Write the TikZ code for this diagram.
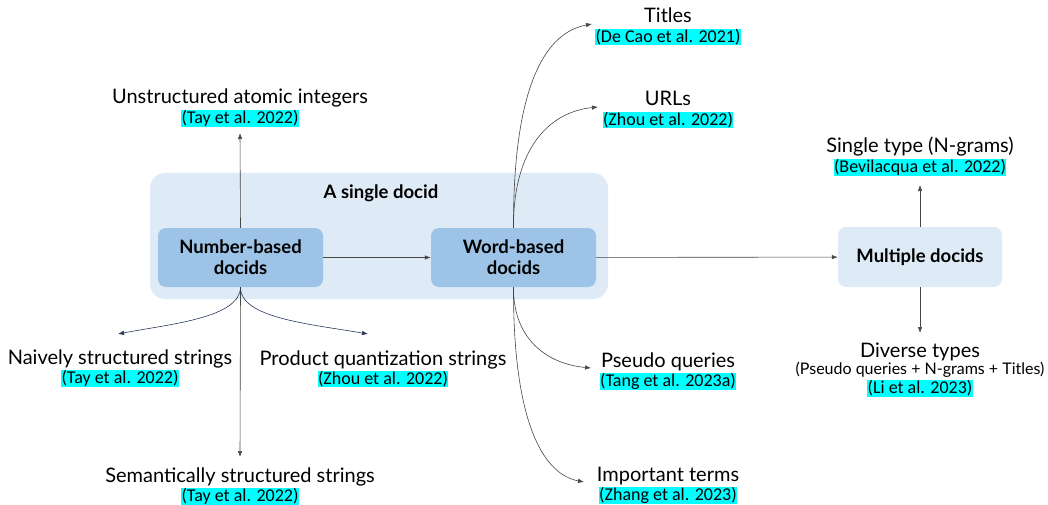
\documentclass[tikz,border=0pt]{standalone}
\usepackage{fontspec}
\setmainfont{Lato}
\newfontfamily\citefont{Carlito}
\usetikzlibrary{arrows.meta,positioning}
\definecolor{docpale}{RGB}{222,234,246}
\definecolor{docblue}{RGB}{157,195,230}
\definecolor{doccyan}{RGB}{0,255,255}
\definecolor{docnavy}{RGB}{40,55,90}
\definecolor{docgray}{RGB}{70,70,70}

\begin{document}
\begin{tikzpicture}[x=1pt, y=-1pt,
  docbox/.style={rounded corners=8pt, fill=docblue, minimum width=165pt, minimum height=59pt,
    align=center, font=\fontsize{18.5}{21}\selectfont\bfseries},
  lbl/.style={inner sep=0pt, text height=14pt, text depth=4pt, font=\fontsize{20}{22}\selectfont},
  cite/.style={fill=doccyan, inner sep=0.4pt, font=\citefont\fontsize{18}{19}\selectfont},
  arr/.style={-{Latex[length=6pt,width=4.5pt]}, docgray, line width=0.6pt}
]
  \useasboundingbox (0,0) rectangle (1048,505);

  % a single docid
  \node[fill=docpale, rounded corners=15pt, minimum width=458pt, minimum height=126pt] (single) at (379,236) {};
  \node[font=\fontsize{18.5}{23}\selectfont\bfseries] (singletitle) at (381,193) {A single docid};
  \node[docbox] (number) at (240.5,257.5) {Number-based\\docids};
  \node[docbox] (word) at (513.5,257.5) {Word-based\\docids};
  \node[docbox, fill=docpale, minimum width=164pt, minimum height=60pt] (multiple) at (920,257) {Multiple docids};

  % labels
  \node[lbl] (atomic) at (240,99) {Unstructured atomic integers};
  \node[cite, below=1.5pt of atomic] (atomiccite) {(Tay et al. 2022)};
  \node[lbl] (naive) at (120,359) {Naively structured strings};
  \node[cite, below=1.5pt of naive] (naivecite) {(Tay et al. 2022)};
  \node[lbl] (pq) at (383,360) {Product quantization strings};
  \node[cite, below=1.5pt of pq] (pqcite) {(Zhou et al. 2022)};
  \node[lbl] (semantic) at (240,477) {Semantically structured strings};
  \node[cite, below=1.5pt of semantic] (semanticcite) {(Tay et al. 2022)};

  \node[lbl] (titles) at (668,18) {Titles};
  \node[cite, below=1.5pt of titles] (titlescite) {(De Cao et al. 2021)};
  \node[lbl] (urls) at (668,101) {URLs};
  \node[cite, below=1.5pt of urls] (urlscite) {(Zhou et al. 2022)};
  \node[lbl] (pseudo) at (668,362) {Pseudo queries};
  \node[cite, below=1.5pt of pseudo] (pseudocite) {(Tang et al. 2023a)};
  \node[lbl] (terms) at (668,476) {Important terms};
  \node[cite, below=1.5pt of terms] (termscite) {(Zhang et al. 2023)};

  \node[lbl] (singletype) at (920,148) {Single type (N-grams)};
  \node[cite, below=1.5pt of singletype] (singletypecite) {(Bevilacqua et al. 2022)};
  \node[lbl] (diverse) at (920,352) {Diverse types};
  \node[lbl, font=\fontsize{16}{18}\selectfont, text height=12pt, below=1.5pt of diverse] (diversemix) {(Pseudo queries + N-grams + Titles)};
  \node[cite, below=1pt of diversemix] (diversecite) {(Li et al. 2023)};

  % free ends
  \coordinate (atomicend) at (240,133);
  \coordinate (naiveend) at (118,334);
  \coordinate (pqend) at (368,334);
  \coordinate (semanticend) at (240,457);
  \coordinate (titlesend) at (592,24);
  \coordinate (urlsend) at (598,107);
  \coordinate (pseudoend) at (591,368);
  \coordinate (termsend) at (584,482);
  \coordinate (singletypeend) at (920,185);
  \coordinate (diverseend) at (920,333);

  % connectors
  \draw[arr] (number) -- (word);
  \draw[arr] (word) -- (multiple);
  \draw[arr] (number.north) -- (atomicend);
  \draw[arr] (number.south) -- (semanticend);
  \draw[arr, docnavy] (number.south) .. controls (240,318) and (170,324) .. (naiveend);
  \draw[arr, docnavy] (number.south) .. controls (240,318) and (310,324) .. (pqend);
  \draw[arr] (word.north) .. controls (513,80) and (548,32) .. (titlesend);
  \draw[arr] (word.north) .. controls (513,150) and (548,112) .. (urlsend);
  \draw[arr] (word.south) .. controls (513,340) and (548,364) .. (pseudoend);
  \draw[arr] (word.south) .. controls (513,420) and (542,474) .. (termsend);
  \draw[arr] (multiple.north) -- (singletypeend);
  \draw[arr] (multiple.south) -- (diverseend);
\end{tikzpicture}
\end{document}
